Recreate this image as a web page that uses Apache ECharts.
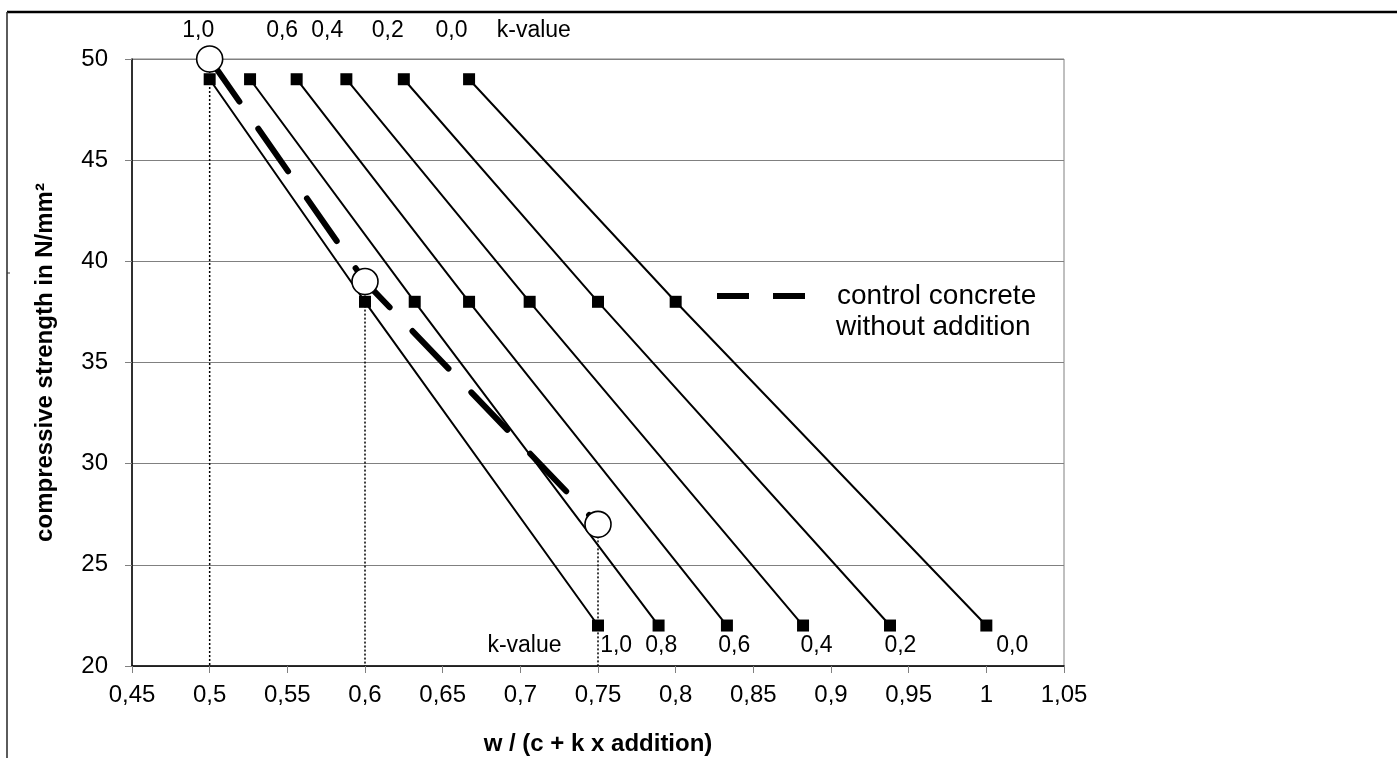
<!DOCTYPE html>
<html>
<head>
<meta charset="utf-8">
<title>Compressive strength vs. w / (c + k x addition)</title>
<script src="https://cdn.jsdelivr.net/npm/echarts@6/dist/echarts.min.js"></script>
<style>
  html, body { margin: 0; padding: 0; background: #fff; }
  #chart { width: 1397px; height: 758px; }
</style>
</head>
<body>
<div id="chart"></div>
<script>
// k-values of the addition, one line per k
const kValues = [1.0, 0.8, 0.6, 0.4, 0.2, 0.0];
// strength levels (N/mm²) at which each k-line is evaluated
const strengthLevels = [49, 38, 22];
// w / (c + k x addition) for each k at 49, 38 and 22 N/mm²
const ratioAt49 = [0.5, 0.526, 0.556, 0.588, 0.625, 0.667];
const ratioAt38 = [0.6, 0.632, 0.667, 0.706, 0.75, 0.8];
const ratioAt22 = [0.75, 0.789, 0.833, 0.882, 0.938, 1.0];
// control concrete without addition
const controlRatio = [0.5, 0.6, 0.75];
const controlStrength = [50, 39, 27];
const legendLine1 = 'control concrete';
const legendLine2 = 'without addition';

// k-value annotations above the plot and along its bottom
const topKText = ['1,0', '0,6', '0,4', '0,2', '0,0', 'k-value'];
const topKAt = [0.493, 0.547, 0.576, 0.615, 0.656, 0.709];
const topKLevel = 51.4;
const bottomKText = ['k-value', '1,0', '0,8', '0,6', '0,4', '0,2', '0,0'];
const bottomKAt = [0.703, 0.762, 0.791, 0.838, 0.891, 0.945, 1.017];
const bottomKLevel = 21.0;

// axis extents
const xMin = 0.45, xMax = 1.05, xStep = 0.05;
const yMin = 20, yMax = 50, yStep = 5;

const FONT = '"Liberation Sans", Arial, sans-serif';
const fmtComma = v => String(+v.toFixed(2)).replace('.', ',');

const kSeries = kValues.map((k, i) => ({
  name: 'k = ' + fmtComma(k),
  type: 'line',
  data: [[ratioAt49[i], strengthLevels[0]], [ratioAt38[i], strengthLevels[1]], [ratioAt22[i], strengthLevels[2]]],
  symbol: 'rect',
  symbolSize: 12,
  itemStyle: { color: '#000' },
  lineStyle: { color: '#000', width: 2 },
  z: 3,
  silent: true
}));

// dotted drop lines from each control point to the x-axis
const dropLines = controlRatio.map((x, i) => ({
  type: 'line',
  data: [[x, controlStrength[i]], [x, yMin]],
  symbol: 'none',
  lineStyle: { color: '#000', width: 1.5, type: [2, 2] },
  z: 2,
  silent: true
}));

const controlSeries = {
  name: 'control',
  type: 'line',
  data: controlRatio.map((x, i) => [x, controlStrength[i]]),
  symbol: 'circle',
  symbolSize: 26,
  itemStyle: { color: '#fff', borderColor: '#000', borderWidth: 1.6 },
  lineStyle: { color: '#000', width: 6, type: [52, 33], cap: 'round' },
  z: 5,
  silent: true
};

// empty series that carry the two legend lines
const legendSeries1 = {
  name: legendLine1,
  type: 'line',
  data: [],
  symbol: 'none',
  itemStyle: { color: '#000' },
  lineStyle: { color: '#000', width: 6 }
};
const legendSeries2 = {
  name: legendLine2,
  type: 'line',
  data: [],
  symbol: 'none',
  itemStyle: { color: '#000' },
  lineStyle: { color: '#000', width: 0 }
};

const labelSeries = (texts, xs, level) => ({
  type: 'scatter',
  data: texts.map((t, i) => ({ value: [xs[i], level], name: t })),
  symbolSize: 1,
  itemStyle: { color: 'rgba(0,0,0,0)' },
  clip: false,
  silent: true,
  label: {
    show: true,
    position: [0, 0],
    align: 'center',
    verticalAlign: 'middle',
    formatter: p => p.name,
    color: '#000',
    opacity: 1,
    textBorderWidth: 0,
    fontFamily: FONT,
    fontSize: 23
  },
  z: 6
});

const legendText = {
  fontFamily: FONT,
  fontSize: 28,
  color: '#000',
  padding: [0, 0, 0, 27]
};

const option = {
  animation: false,
  backgroundColor: '#fff',
  grid: {
    left: 132, right: 333, top: 59, bottom: 92,
    outerBoundsMode: 'none',
    containLabel: false,
    show: true, borderColor: '#808080', borderWidth: 1
  },
  legend: [
    {
      // two thick dashes as the legend sample
      data: [{ name: legendLine1, icon: 'path://M0,0h32v6h-32zM56,0h32v6h-32z' }],
      left: 717, top: 282, padding: 0,
      itemWidth: 88, itemHeight: 6,
      selectedMode: false,
      itemStyle: { color: '#000' },
      textStyle: legendText
    },
    {
      data: [{ name: legendLine2, icon: 'none' }],
      left: 716, top: 313, padding: 0,
      itemWidth: 88, itemHeight: 6,
      selectedMode: false,
      textStyle: legendText
    }
  ],
  xAxis: {
    type: 'value',
    min: xMin, max: xMax, interval: xStep,
    name: 'w / (c + k x addition)',
    nameLocation: 'middle',
    nameGap: 66,
    nameTextStyle: { fontFamily: FONT, fontSize: 24, fontWeight: 'bold', color: '#000' },
    axisLine: { lineStyle: { color: '#000', width: 1.5 } },
    axisTick: { show: true, length: 7, lineStyle: { color: '#808080' } },
    axisLabel: { margin: 17, fontFamily: FONT, fontSize: 24, color: '#000', formatter: fmtComma },
    splitLine: { show: false }
  },
  yAxis: {
    type: 'value',
    min: yMin, max: yMax, interval: yStep,
    name: 'compressive strength in N/mm²',
    nameLocation: 'middle',
    nameGap: 75,
    nameRotate: 90,
    nameTextStyle: { fontFamily: FONT, fontSize: 24, fontWeight: 'bold', color: '#000' },
    axisLine: { show: true, lineStyle: { color: '#000', width: 1.5 } },
    axisTick: { show: true, length: 7, lineStyle: { color: '#808080' } },
    axisLabel: { margin: 24, fontFamily: FONT, fontSize: 24, color: '#000' },
    splitLine: { show: true, lineStyle: { color: '#808080', width: 1 } }
  },
  graphic: [
    { type: 'line', shape: { x1: 7, y1: 12, x2: 1397, y2: 12 }, style: { stroke: '#000', lineWidth: 2.5 }, silent: true },
    { type: 'line', shape: { x1: 7, y1: 12, x2: 7, y2: 758 }, style: { stroke: '#333', lineWidth: 1.6 }, silent: true },
    { type: 'line', shape: { x1: 7, y1: 273, x2: 10, y2: 273 }, style: { stroke: '#333', lineWidth: 1 }, silent: true }
  ],
  series: [
    ...dropLines,
    ...kSeries,
    controlSeries,
    legendSeries1,
    legendSeries2,
    labelSeries(topKText, topKAt, topKLevel),
    labelSeries(bottomKText, bottomKAt, bottomKLevel)
  ]
};

const chart = echarts.init(document.getElementById('chart'), null, { renderer: 'canvas' });
chart.setOption(option);
</script>
</body>
</html>
